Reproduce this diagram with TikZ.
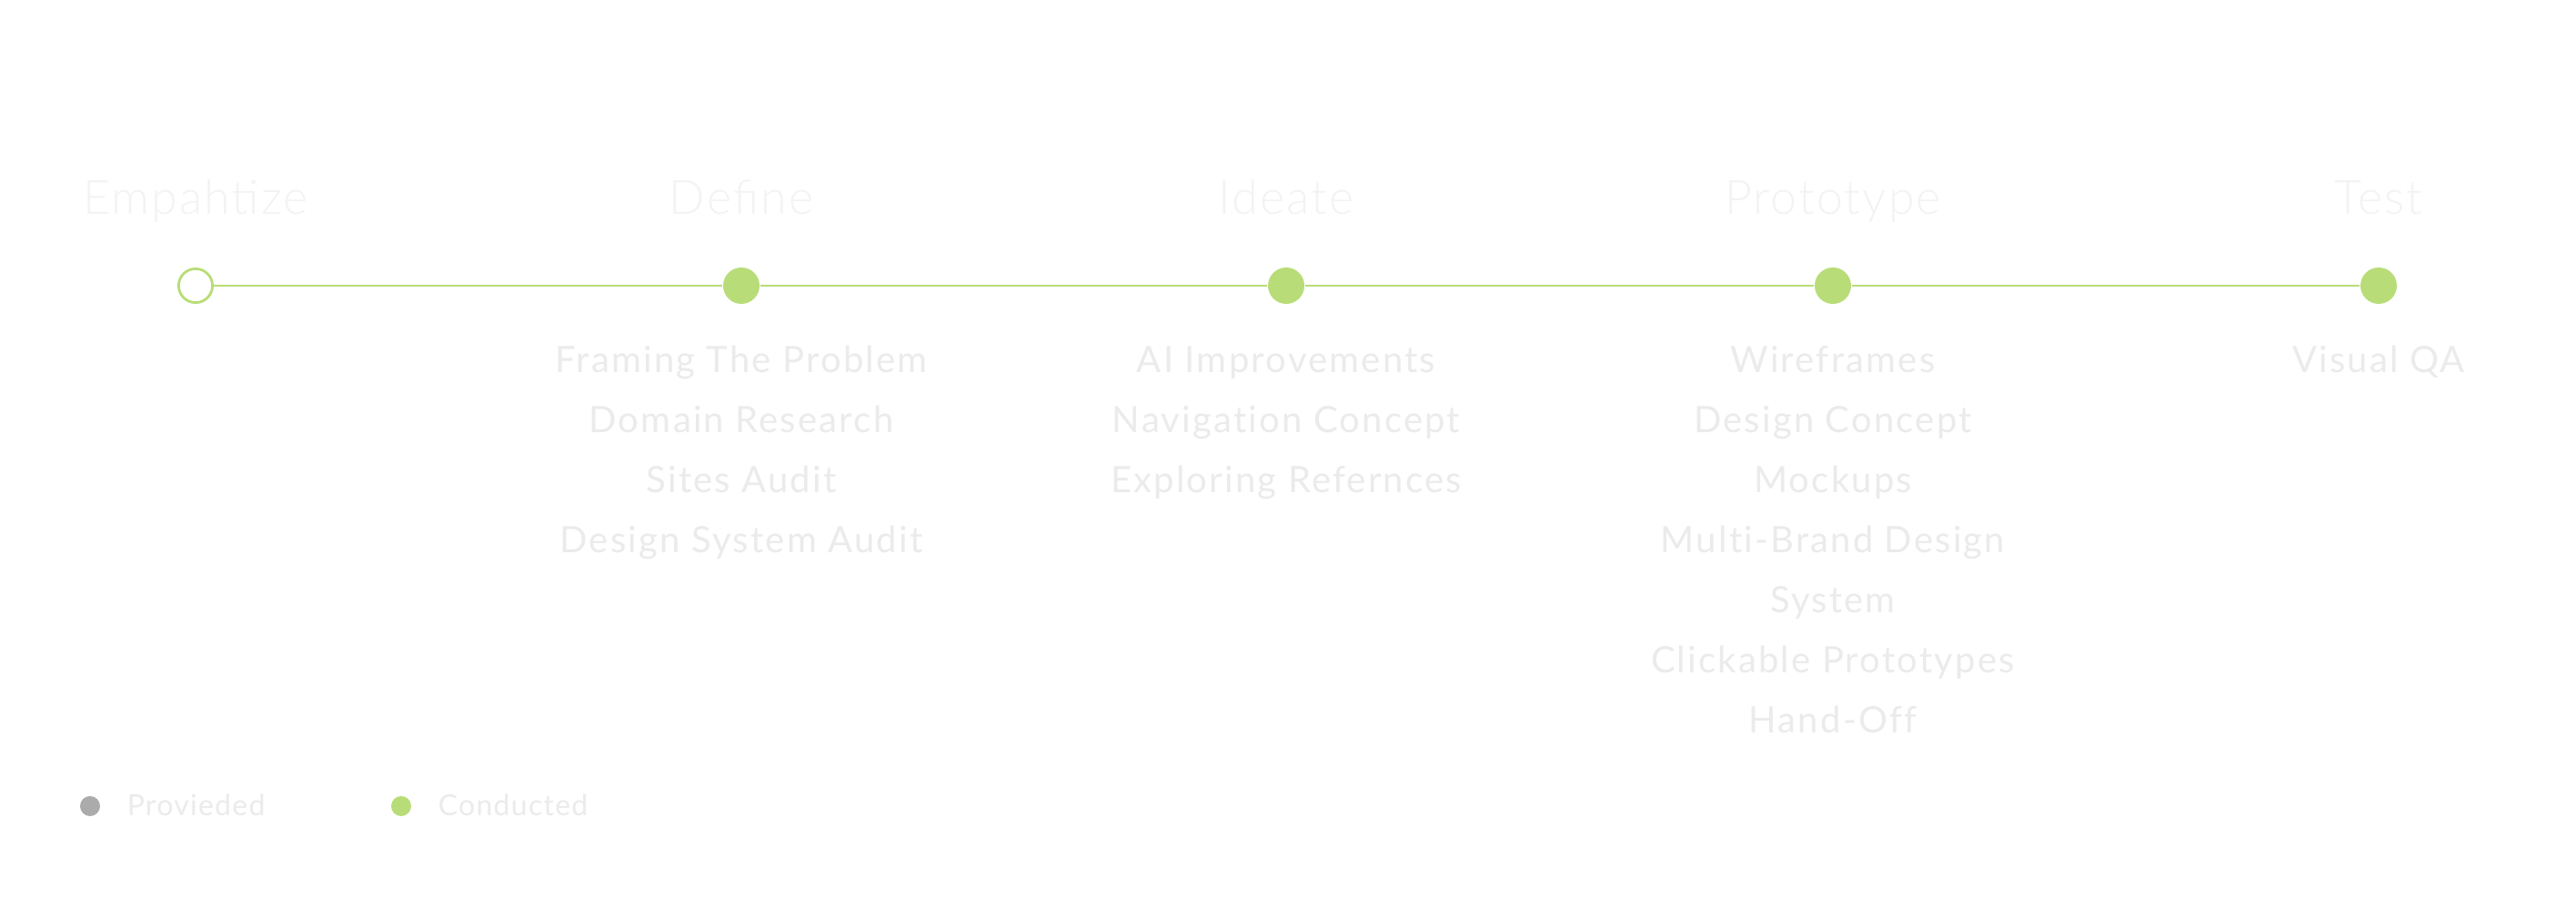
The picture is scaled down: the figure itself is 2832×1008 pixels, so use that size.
\documentclass[tikz,border=0pt]{standalone}
\usepackage{fontspec}
\setmainfont{Lato}[Ligatures=NoCommon]
\newfontfamily\headfont{Lato Light}[LetterSpace=4]
\newfontfamily\itemfont{Lato}[LetterSpace=5.5,Ligatures=NoCommon]
\newfontfamily\legfont{Lato}[LetterSpace=4]
\definecolor{leaf}{HTML}{B8DD78}
\definecolor{itemgray}{HTML}{EBEBEB}
\definecolor{headgray}{HTML}{F3F3F3}
\definecolor{provgray}{HTML}{ABABAB}
\begin{document}
\begin{tikzpicture}[x=0.25pt,y=-0.25pt,
  dot/.style={circle,fill=leaf,draw=none,minimum size=10pt,inner sep=0pt},
  hollow/.style={circle,fill=white,draw=leaf,line width=0.7pt,minimum size=9.3pt,inner sep=0pt},
  phase/.style={font=\headfont\fontsize{13}{15}\selectfont,text=headgray,anchor=base},
  item/.style={font=\itemfont\fontsize{10}{12}\selectfont,text=itemgray,anchor=base},
  legdot/.style={circle,draw=none,minimum size=5.5pt,inner sep=0pt},
  legtext/.style={font=\legfont\fontsize{8}{9}\selectfont,text=itemgray,anchor=base west,inner sep=0pt},
  link/.style={draw=leaf,line width=0.7pt}]
\useasboundingbox[fill=white] (0,0) rectangle (2832,1008);
% phase titles
\node[phase] (h1) at (215,235) {Empahtize};
\node[phase] (h2) at (815,235) {Define};
\node[phase] (h3) at (1414,235) {Ideate};
\node[phase] (h4) at (2015,235) {Prototype};
\node[phase] (h5) at (2615,235) {Test};
% timeline
\node[hollow] (e) at (215,314) {};
\node[dot] (d) at (815,314) {};
\node[dot] (i) at (1414,314) {};
\node[dot] (p) at (2015,314) {};
\node[dot] (t) at (2615,314) {};
\draw[link] (e) -- (d) -- (i) -- (p) -- (t);
% Define items
\node[item] (d1) at (815,409) {Framing The Problem};
\node[item] (d2) at (815,475) {Domain Research};
\node[item] (d3) at (815,541) {Sites Audit};
\node[item] (d4) at (815,607) {Design System Audit};
% Ideate items
\node[item] (i1) at (1414,409) {AI Improvements};
\node[item] (i2) at (1414,475) {Navigation Concept};
\node[item] (i3) at (1414,541) {Exploring Refernces};
% Prototype items
\node[item] (p1) at (2015,409) {Wireframes};
\node[item] (p2) at (2015,475) {Design Concept};
\node[item] (p3) at (2015,541) {Mockups};
\node[item] (p4) at (2015,607) {Multi-Brand Design};
\node[item] (p5) at (2015,673) {System};
\node[item] (p6) at (2015,739) {Clickable Prototypes};
\node[item] (p7) at (2015,805) {Hand-Off};
% Test items
\node[item] (t1) at (2615,409) {Visual QA};
% legend
\node[legdot,fill=provgray] (l1) at (99,886) {};
\node[legtext] (l1t) at (139,896) {Provieded};
\node[legdot,fill=leaf] (l2) at (441,886) {};
\node[legtext] (l2t) at (481,896) {Conducted};
\end{tikzpicture}
\end{document}
